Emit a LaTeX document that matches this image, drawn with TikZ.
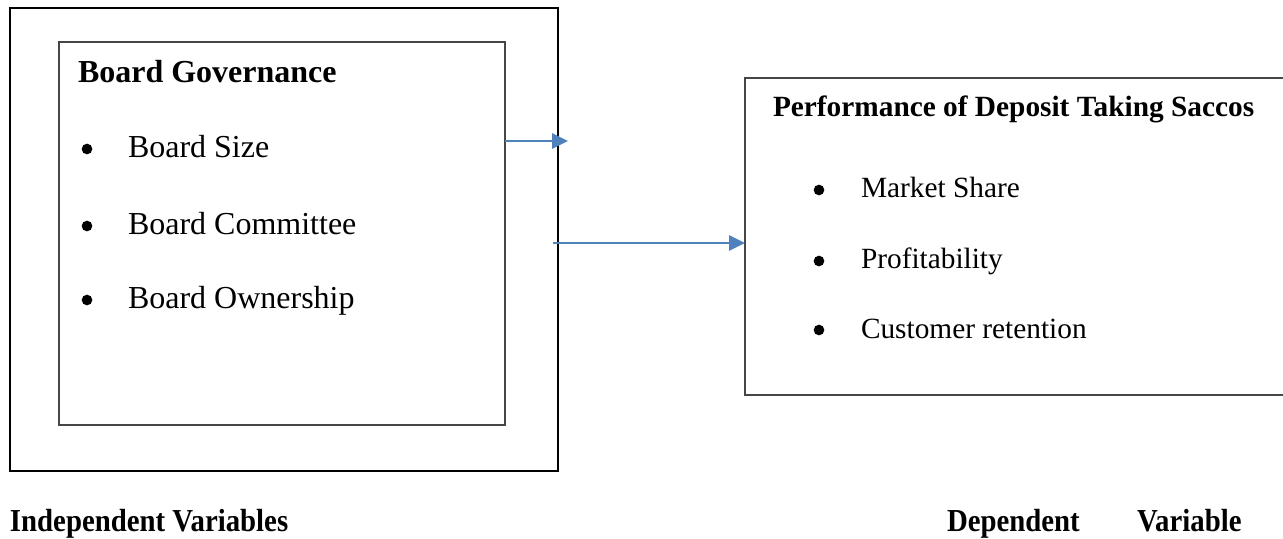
\documentclass[tikz,border=0pt]{standalone}
\usepackage{fontspec}
\setmainfont{Liberation Serif}
\usetikzlibrary{arrows.meta}
\definecolor{arrowblue}{RGB}{79,129,189}
\definecolor{boxgray}{RGB}{70,70,70}
\begin{document}
\begin{tikzpicture}[x=0.375pt,y=-0.375pt,
  every node/.style={inner sep=0pt,outer sep=0pt},
  txt/.style={anchor=base west,font=\fontsize{12}{14}\selectfont},
  rtxt/.style={anchor=base west,font=\fontsize{11}{13}\selectfont},
  ttl/.style={anchor=base west,font=\fontsize{12}{14}\selectfont\bfseries},
  rttl/.style={anchor=base west,font=\fontsize{11}{13}\selectfont\bfseries},
  bul/.style={circle,fill=black,minimum size=4pt},
  conn/.style={draw=arrowblue,line width=1.1pt,-{Triangle[length=6pt,width=5.6pt]}}]
\useasboundingbox (0,0) rectangle (1283,538);
\fill[white] (0,0) rectangle (1283,538);
% boxes
\node[draw=black,line width=0.8pt,minimum width=548*0.375pt,minimum height=463*0.375pt,anchor=north west] (outer) at (10,8) {};
\node[draw=boxgray,line width=0.5pt,minimum width=446*0.375pt,minimum height=383*0.375pt,anchor=north west] (inner) at (59,42) {};
\node[draw=boxgray,line width=0.55pt,minimum width=540*0.375pt,minimum height=317*0.375pt,anchor=north west] (dep) at (745,78) {};
% left texts
\node[ttl] (bgt) at (78,82) {Board Governance};
\node[bul] (b1) at (87,149) {};
\node[txt] (t1) at (128,157) {Board Size};
\node[bul] (b2) at (87,226) {};
\node[txt] (t2) at (128,234) {Board Committee};
\node[bul] (b3) at (87,300) {};
\node[txt] (t3) at (128,308) {Board Ownership};
% right texts
\node[rttl] (pt) at (773,116) {Performance of Deposit Taking Saccos};
\node[bul] (r1) at (819,190) {};
\node[rtxt] (s1) at (861,197) {Market Share};
\node[bul] (r2) at (819,261) {};
\node[rtxt] (s2) at (861,268) {Profitability};
\node[bul] (r3) at (819,330) {};
\node[rtxt] (s3) at (861,338) {Customer retention};
% arrows
\coordinate (a1s) at (inner.east |- 0,141);
\coordinate (a1e) at (568,141);
\draw[conn] (a1s) -- (a1e);
\coordinate (a2s) at (553,243);
\draw[conn] (a2s) -- (dep.west |- 0,243);
% bottom labels
\node[ttl,xscale=0.9] (iv) at (10,531) {Independent Variables};
\node[ttl,xscale=0.9] (dv1) at (947,531) {Dependent};
\node[ttl,xscale=0.9] (dv2) at (1137,531) {Variable};
\end{tikzpicture}
\end{document}
